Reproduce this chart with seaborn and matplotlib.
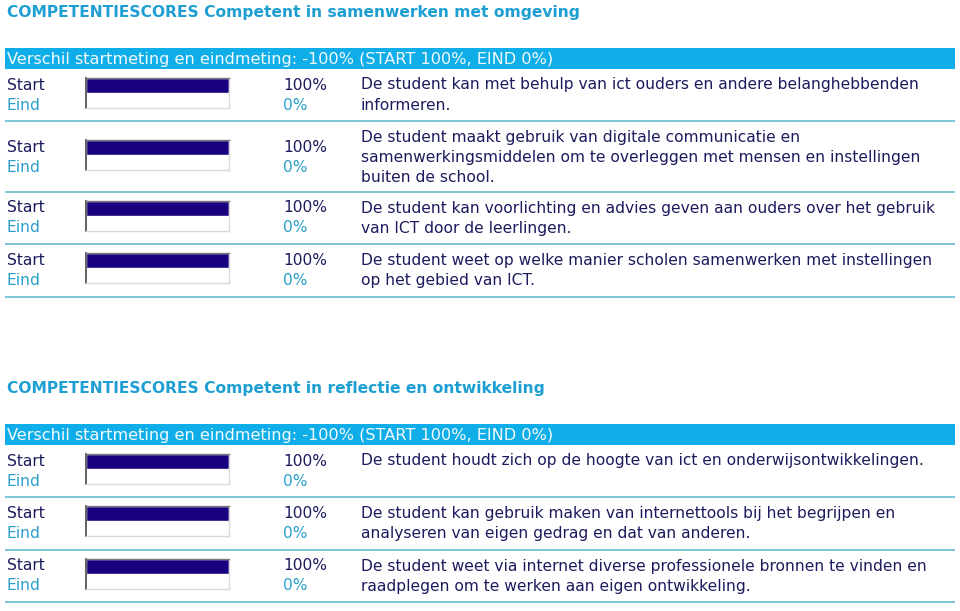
import matplotlib
matplotlib.use("Agg")
import matplotlib.pyplot as plt
import seaborn as sns
import pandas as pd
from matplotlib.patches import Rectangle

sns.set_theme(style="white")
plt.rcParams['font.family'] = ['DejaVu Sans']

# ---------------- data ----------------
section_titles = [
    "COMPETENTIESCORES Competent in samenwerken met omgeving",
    "COMPETENTIESCORES Competent in reflectie en ontwikkeling",
]
band_texts = [
    "Verschil startmeting en eindmeting: -100% (START 100%, EIND 0%)",
    "Verschil startmeting en eindmeting: -100% (START 100%, EIND 0%)",
]
descriptions_1 = [
    ["De student kan met behulp van ict ouders en andere belanghebbenden", "informeren."],
    ["De student maakt gebruik van digitale communicatie en",
     "samenwerkingsmiddelen om te overleggen met mensen en instellingen",
     "buiten de school."],
    ["De student kan voorlichting en advies geven aan ouders over het gebruik",
     "van ICT door de leerlingen."],
    ["De student weet op welke manier scholen samenwerken met instellingen",
     "op het gebied van ICT."],
]
start_scores_1 = [100, 100, 100, 100]
eind_scores_1 = [0, 0, 0, 0]

descriptions_2 = [
    ["De student houdt zich op de hoogte van ict en onderwijsontwikkelingen."],
    ["De student kan gebruik maken van internettools bij het begrijpen en",
     "analyseren van eigen gedrag en dat van anderen."],
    ["De student weet via internet diverse professionele bronnen te vinden en",
     "raadplegen om te werken aan eigen ontwikkeling."],
]
start_scores_2 = [100, 100, 100]
eind_scores_2 = [0, 0, 0]

row_labels = ["Start", "Eind"]

# ---------------- style ----------------
W, H = 960, 611
TITLE_C = "#1e9fd3"
BAND_C = "#10aee8"
BAND_TXT = "#f2fafd"
DARK = "#1b1b5e"
CYAN = "#2a9fc9"
SEP_C = "#74c0d6"
NAVY = "#19007f"
FS = 11.2
FS_BAND = 11.6

fig = plt.figure(figsize=(W / 100, H / 100), dpi=100)
bg = fig.add_axes([0, 0, 1, 1])
bg.set_xlim(0, W)
bg.set_ylim(H, 0)
bg.axis("off")


def bar_widget(y_top, start, eind):
    bax = fig.add_axes([86 / W, 1 - (y_top + 30) / H, 143 / W, 30 / H])
    df = pd.DataFrame({"meting": row_labels, "score": [start, eind]})
    sns.barplot(data=df, y="meting", x="score", ax=bax, color=NAVY,
                width=1.0, orient="h", saturation=1, errorbar=None)
    bax.set_xlim(0, 100)
    bax.set_ylim(1.5, -0.5)
    bax.set_xticks([])
    bax.set_yticks([])
    bax.set_xlabel("")
    bax.set_ylabel("")
    bax.set_facecolor("white")
    for side, col, lw in [("top", "#7a7a7a", 1.0), ("left", "#555555", 1.3),
                          ("right", "#d9d9d9", 1.0), ("bottom", "#d9d9d9", 1.0)]:
        bax.spines[side].set_visible(True)
        bax.spines[side].set_color(col)
        bax.spines[side].set_linewidth(lw)


def section(title_y, title, band_text, descs, starts, einds):
    bg.text(7, title_y, title, fontsize=FS, fontweight="bold", color=TITLE_C,
            va="center", ha="left")
    band_top = title_y + 36
    bg.add_patch(Rectangle((5, band_top), 950, 21, color=BAND_C, lw=0))
    bg.text(7, band_top + 11.5, band_text, fontsize=FS_BAND, color=BAND_TXT,
            va="center", ha="left")
    cursor = band_top + 21
    for desc, s, e in zip(descs, starts, einds):
        n = max(2, len(desc))
        yc = cursor + 16 + (n - 2) * 10
        bg.text(7, yc, row_labels[0], fontsize=FS, color=DARK, va="center")
        bg.text(7, yc + 20, row_labels[1], fontsize=FS, color=CYAN, va="center")
        bg.text(283, yc, f"{s}%", fontsize=FS, color=DARK, va="center")
        bg.text(283, yc + 20, f"{e}%", fontsize=FS, color=CYAN, va="center")
        first = yc + 10 - (n - 1) * 10
        for i, line in enumerate(desc):
            bg.text(361, first + 20 * i, line, fontsize=FS, color=DARK, va="center")
        bar_widget(yc - 7.5, s, e)
        sep = cursor + 52 + (n - 2) * 18
        bg.plot([5, 955], [sep, sep], color=SEP_C, lw=1.3, solid_capstyle="butt")
        cursor = sep + 0.5
    return cursor


section(12, section_titles[0], band_texts[0], descriptions_1, start_scores_1, eind_scores_1)
section(388, section_titles[1], band_texts[1], descriptions_2, start_scores_2, eind_scores_2)

fig.savefig("out.png", dpi=100)
